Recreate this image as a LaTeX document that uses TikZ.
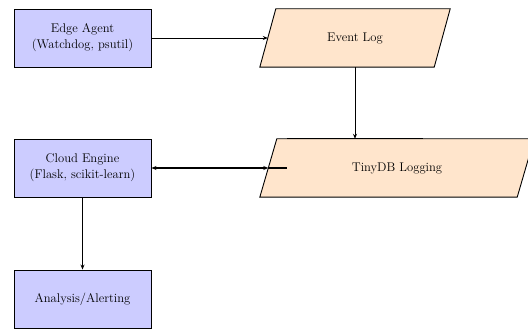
\documentclass[tikz,border=0pt]{standalone}
\usetikzlibrary{arrows.meta}
\definecolor{boxfill}{RGB}{204,204,255}
\definecolor{datafill}{RGB}{255,229,204}
\tikzset{
  procbox/.style={draw=black, line width=0.9pt, fill=boxfill, minimum width=137pt, minimum height=58pt, inner sep=0pt, align=center, font=\fontsize{12.6}{16}\selectfont},
  datatext/.style={minimum height=58pt, inner sep=0pt, font=\fontsize{12.6}{16}\selectfont},
  datashape/.style={draw=black, line width=0.9pt, fill=datafill},
  conn/.style={draw=black, line width=0.7pt, -{Stealth[length=5pt,width=4pt]}},
  bconn/.style={draw=black, line width=1.3pt, {Stealth[length=5pt,width=4pt]}-{Stealth[length=5pt,width=4pt]}}
}
\begin{document}
\begin{tikzpicture}[x=1pt,y=1pt]
\useasboundingbox (0,0) rectangle (528,329);
\node[procbox] (edge) at (82.5,291) {Edge Agent\\(Watchdog, psutil)};
\node[procbox] (cloud) at (82.5,161) {Cloud Engine\\(Flask, scikit-learn)};
\node[procbox] (alert) at (82.5,30) {Analysis/Alerting};
% Event Log parallelogram
\node[datatext, minimum width=190pt] (event) at (355,291) {};
\draw[datashape] ([xshift=16pt]event.north west) -- (event.north east)
  -- ([xshift=-16pt]event.south east) -- (event.south west) -- cycle;
\node[datatext] (eventlbl) at (event.center) {Event Log};
% TinyDB parallelogram
\node[datatext, minimum width=274pt] (tiny) at (397,161) {};
\draw[datashape] ([xshift=17pt]tiny.north west) -- (tiny.north east)
  -- ([xshift=-17pt]tiny.south east) -- (tiny.south west) -- cycle;
\node[datatext] (tinylbl) at (tiny.center) {TinyDB Logging};
\coordinate (eventin) at ([xshift=8pt]event.west);
\coordinate (tinyin) at ([xshift=8.5pt]tiny.west);
\coordinate (stub) at ([xshift=27pt]tiny.west);
\draw[line width=1.2pt] ([xshift=-110pt]tiny.north) -- ([xshift=26pt]tiny.north);
\draw[conn] (edge.east) -- (eventin);
\draw[conn] (event.south) -- (event.south |- tiny.north);
\draw[bconn] (cloud.east) -- (tinyin);
\draw[line width=1.3pt] (tinyin) -- (stub);
\draw[conn] (cloud.south) -- (alert.north);
\end{tikzpicture}
\end{document}
